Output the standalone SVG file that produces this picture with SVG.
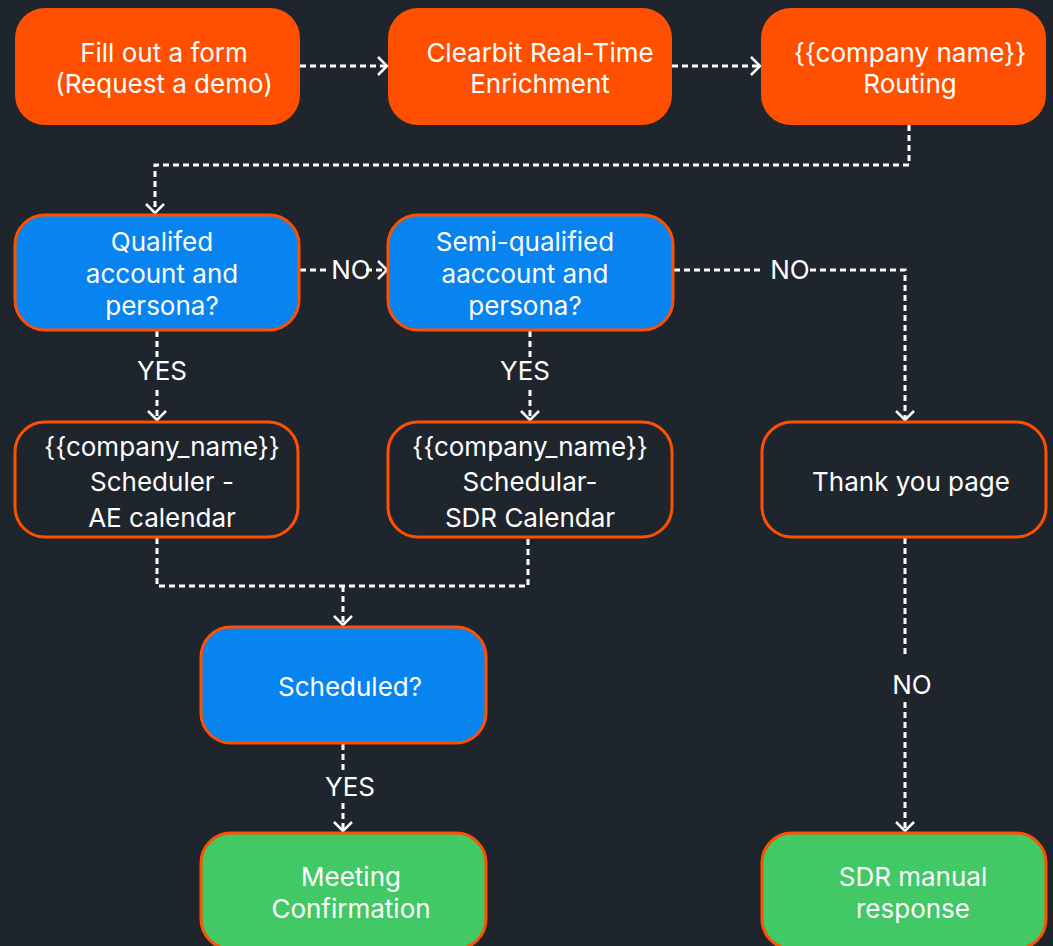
<svg xmlns="http://www.w3.org/2000/svg" width="1053" height="946" viewBox="0 0 1053 946">
<defs>
<style>
.bg{fill:#1f252d}
.orange{fill:#fe5000}
.blue{fill:#0784f0;stroke:#fe5000;stroke-width:3}
.dark{fill:#1f252d;stroke:#fe5000;stroke-width:3}
.green{fill:#42c966;stroke:#fe5000;stroke-width:3}
text{font-family:Inter,"Noto Sans",sans-serif;font-size:26px;fill:#ffffff;text-anchor:middle}
.c{fill:none;stroke:#ffffff;stroke-width:3;stroke-dasharray:6 4}
</style>
<marker id="arr" markerWidth="14" markerHeight="22" refX="11" refY="11" orient="auto" markerUnits="userSpaceOnUse">
<path d="M2,2 L11,11 L2,20" fill="none" stroke="#ffffff" stroke-width="2.5"/>
</marker>
</defs>
<rect class="bg" x="0" y="0" width="1053" height="946"/>

<g id="connectors">
<path class="c" d="M300,66 H387" marker-end="url(#arr)"/>
<path class="c" d="M672,66 H760" marker-end="url(#arr)"/>
<path class="c" d="M909,125 V165 H155 V213" marker-end="url(#arr)"/>
<path class="c" d="M300,270 H326"/>
<path class="c" d="M366,270 H387" marker-end="url(#arr)"/>
<path class="c" d="M674,270 H760"/>
<path class="c" d="M810,270 H905 V420" marker-end="url(#arr)"/>
<path class="c" d="M157,331 V358"/>
<path class="c" d="M157,390 V420" marker-end="url(#arr)"/>
<path class="c" d="M530,331 V358"/>
<path class="c" d="M530,390 V420" marker-end="url(#arr)"/>
<path class="c" d="M157,538 V586 H528 V538"/>
<path class="c" d="M343,586 V625" marker-end="url(#arr)"/>
<path class="c" d="M343,744 V770"/>
<path class="c" d="M343,803 V831" marker-end="url(#arr)"/>
<path class="c" d="M905,538 V658"/>
<path class="c" d="M905,702 V831" marker-end="url(#arr)"/>
<text x="351" y="279">NO</text>
<text x="790" y="279">NO</text>
<text x="162" y="380">YES</text>
<text x="525" y="380">YES</text>
<text x="350" y="796">YES</text>
<text x="912" y="694">NO</text>
</g>

<g id="n-form">
<rect class="orange" x="15" y="8" width="285" height="117" rx="30"/>
<text x="164" y="62">Fill out a form</text>
<text x="164" y="93">(Request a demo)</text>
</g>
<g id="n-clearbit">
<rect class="orange" x="388" y="8" width="284" height="117" rx="30"/>
<text x="540" y="62">Clearbit Real-Time</text>
<text x="540" y="93">Enrichment</text>
</g>
<g id="n-routing">
<rect class="orange" x="761" y="8" width="285" height="117" rx="30"/>
<text x="910" y="62">{{company name}}</text>
<text x="910" y="93">Routing</text>
</g>
<g id="n-qualified">
<rect class="blue" x="15" y="215" width="284" height="115" rx="30"/>
<text x="162" y="251">Qualifed</text>
<text x="162" y="283">account and</text>
<text x="162" y="315">persona?</text>
</g>
<g id="n-semi">
<rect class="blue" x="388" y="215" width="285" height="115" rx="30"/>
<text x="525" y="251">Semi-qualified</text>
<text x="525" y="283">aaccount and</text>
<text x="525" y="315">persona?</text>
</g>
<g id="n-scheduler-ae">
<rect class="dark" x="15" y="422" width="283" height="115" rx="30"/>
<text x="162" y="456">{{company_name}}</text>
<text x="162" y="491">Scheduler -</text>
<text x="162" y="527">AE calendar</text>
</g>
<g id="n-scheduler-sdr">
<rect class="dark" x="388" y="422" width="284" height="115" rx="30"/>
<text x="530" y="456">{{company_name}}</text>
<text x="530" y="491">Schedular-</text>
<text x="530" y="527">SDR Calendar</text>
</g>
<g id="n-thankyou">
<rect class="dark" x="762" y="422" width="284" height="115" rx="30"/>
<text x="911" y="491">Thank you page</text>
</g>
<g id="n-scheduled">
<rect class="blue" x="201" y="627" width="285" height="116" rx="30"/>
<text x="350" y="696">Scheduled?</text>
</g>
<g id="n-meeting">
<rect class="green" x="201" y="833" width="285" height="116" rx="30"/>
<text x="351" y="886">Meeting</text>
<text x="351" y="918">Confirmation</text>
</g>
<g id="n-sdr-manual">
<rect class="green" x="762" y="833" width="284" height="116" rx="30"/>
<text x="913" y="886">SDR manual</text>
<text x="913" y="918">response</text>
</g>
</svg>
